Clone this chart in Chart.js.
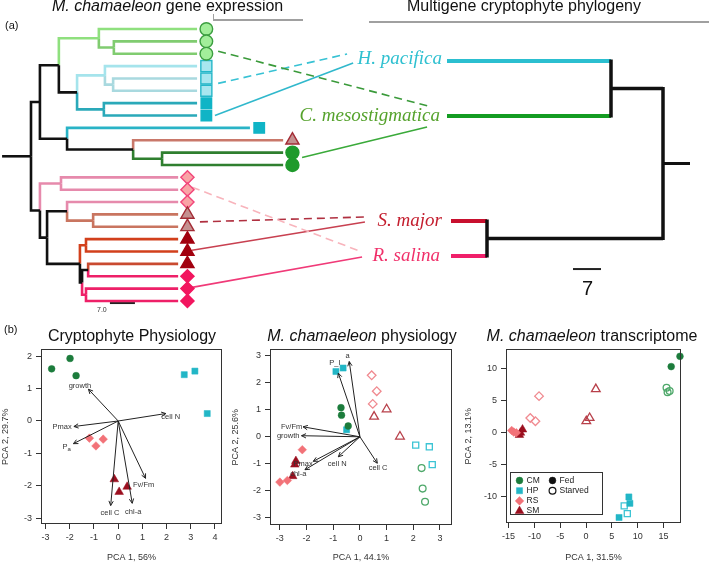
<!DOCTYPE html>
<html>
<head>
<meta charset="utf-8">
<script src="https://cdn.jsdelivr.net/npm/chart.js@4.4.1/dist/chart.umd.min.js"></script>
<style>
  html, body { margin: 0; padding: 0; background: #fff; }
  body { width: 709px; height: 566px; position: relative; overflow: hidden; font-family: "Liberation Sans", Arial, sans-serif; color: #111; }
  .box { position: absolute; }
  .txt { position: absolute; white-space: nowrap; }
  .head { font-size: 16px; line-height: 18px; }
  .taxon { font-family: "Liberation Serif", "DejaVu Serif", serif; font-style: italic; font-size: 19px; line-height: 20px; }
  .ttl { font-size: 16px; line-height: 18px; text-align: center; width: 240px; z-index: 2; }
  .rule { position: absolute; background: #a0a0a0; }
</style>
</head>
<body>

<div class="box" style="left:0;top:0;width:709px;height:318px"><canvas id="tree"></canvas></div>

<div class="txt head" style="left:52px;top:-3px"><i>M. chamaeleon</i> gene expression</div>
<div class="txt head" style="left:407px;top:-3px">Multigene cryptophyte phylogeny</div>
<div class="rule" style="left:213px;top:19px;width:90px;height:2px"></div>
<div class="rule" style="left:213px;top:14px;width:1px;height:6px"></div>
<div class="rule" style="left:369px;top:21px;width:340px;height:2px"></div>
<div class="txt" style="left:5px;top:19px;font-size:11px">(a)</div>

<div class="txt taxon" style="right:267px;top:48px;color:#2ec0d0">H. pacifica</div>
<div class="txt taxon" style="right:269px;top:105px;color:#55a22c">C. mesostigmatica</div>
<div class="txt taxon" style="right:267px;top:210px;color:#c41e2e">S. major</div>
<div class="txt taxon" style="right:269px;top:245px;color:#f0306a">R. salina</div>
<div class="txt" style="left:97px;top:306px;font-size:7px;color:#333">7.0</div>
<div class="txt" style="left:582px;top:277px;font-size:20px;line-height:22px">7</div>

<div class="txt" style="left:4px;top:323px;font-size:11px">(b)</div>
<div class="txt ttl" style="left:12px;top:327px">Cryptophyte Physiology</div>
<div class="txt ttl" style="left:242px;top:327px"><i>M. chamaeleon</i> physiology</div>
<div class="txt ttl" style="left:472px;top:327px"><i>M. chamaeleon</i> transcriptome</div>

<div class="box" style="left:0;top:340px;width:228px;height:226px"><canvas id="pca1"></canvas></div>
<div class="box" style="left:230px;top:340px;width:228px;height:226px"><canvas id="pca2"></canvas></div>
<div class="box" style="left:463px;top:340px;width:246px;height:226px"><canvas id="pca3"></canvas></div>

<script>
const FONT = '"Liberation Sans", Arial, sans-serif';

// ---------- (a) gene expression dendrogram, depths in units of the 7.0 bar ----------
// [node, parent, depth, branch colour]; leaves are t0..t22 top to bottom
const geneTree = [
  ['root', null, 0, '#111'],
  ['c1', 'root', 2.5, '#111'],
  ['c2', 'c1', 7.8, '#111'],
  ['g1', 'c2', 19.0, '#8fe07e'],
  ['t0', 'g1', 46.5, '#8fe07e'],
  ['g2', 'g1', 23.2, '#80cc70'],
  ['t1', 'g2', 46.5, '#80cc70'],
  ['t2', 'g2', 46.5, '#80cc70'],
  ['h1', 'c2', 12.9, '#111'],
  ['h2', 'h1', 20.7, '#a5e4ec'],
  ['t3', 'h2', 46.5, '#a5e4ec'],
  ['h3', 'h2', 23.0, '#a9d9df'],
  ['t4', 'h3', 46.5, '#a9d9df'],
  ['t5', 'h3', 46.5, '#a9d9df'],
  ['h4', 'h1', 20.4, '#2aa9b9'],
  ['t6', 'h4', 46.5, '#2aa9b9'],
  ['t7', 'h4', 46.5, '#2aa9b9'],
  ['d1', 'c1', 10.1, '#111'],
  ['t8', 'd1', 61.3, '#29b3c6'],
  ['d2', 'd1', 28.6, '#111'],
  ['t9', 'd2', 70.6, '#c9786a'],
  ['d3', 'd2', 36.7, '#2f7f2f'],
  ['t10', 'd3', 70.6, '#2f7f2f'],
  ['t11', 'd3', 70.6, '#2f7f2f'],
  ['e1', 'root', 2.5, '#111'],
  ['p1', 'e1', 8.4, '#e68aac'],
  ['t12', 'p1', 41.2, '#e68aac'],
  ['t13', 'p1', 41.2, '#e68aac'],
  ['e2', 'e1', 4.5, '#111'],
  ['e3', 'e2', 10.1, '#111'],
  ['t14', 'e3', 41.2, '#e68aac'],
  ['b1', 'e3', 17.4, '#c97560'],
  ['t15', 'b1', 41.2, '#c97560'],
  ['t16', 'b1', 41.2, '#c97560'],
  ['e4', 'e2', 13.7, '#111'],
  ['r1', 'e4', 15.4, '#d2401c'],
  ['t17', 'r1', 41.2, '#d2401c'],
  ['t18', 'r1', 41.2, '#d2401c'],
  ['e5', 'e4', 14.3, '#111'],
  ['e6', 'e5', 16.0, '#111'],
  ['t19', 'e6', 41.2, '#c94a30'],
  ['t20', 'e6', 41.2, '#ee2068'],
  ['r2', 'e5', 15.4, '#ee2068'],
  ['t21', 'r2', 41.2, '#ee2068'],
  ['t22', 'r2', 41.2, '#ee2068'],
];
const geneRootStub = -8.1;
// sample type of each leaf (CM/HP/RS/SM, s = starved, f = fed)
const leafMarks = ['cmS','cmS','cmS','hpS','hpS','hpS','hpF','hpF','hpF','smS','cmF','cmF',
                   'rsS','rsS','rsS','smS','smS','smF','smF','smF','rsF','rsF','rsF'];

// ---------- (a) species tree, depths from its root (units of the 7 bar) ----------
const speciesTree = [
  ['root', null, 0, '#111'],
  ['hc', 'root', 13, '#111'],
  ['H. pacifica', 'hc', 54, '#2bbfd0'],
  ['C. mesostigmatica', 'hc', 54, '#149c22'],
  ['sr', 'root', 44, '#111'],
  ['S. major', 'sr', 53, '#c8102e'],
  ['R. salina', 'sr', 53, '#f0206a'],
];
const speciesRows = { 'H. pacifica': 2.59, 'C. mesostigmatica': 7.04, 'S. major': 15.53, 'R. salina': 18.37 };
const speciesRootStub = -6.75;

// connectors from expression leaves to species labels: [depth, row]
const linkFrom = [[52.4, 1.8], [52.4, 4.4], [51.5, 7.0], [75.9, 10.4], [45.1, 12.8], [47.3, 15.6], [45.1, 17.9], [45.1, 20.9]];
const linkTo = [[111.2, 6.23], [88.5, 2.02], [90.2, 2.75], [110.9, 7.93], [92.7, 18.04], [93.5, 15.21], [93.5, 15.61], [92.7, 18.45]];
const linkColors = ['#3a9a3a', '#38c2d4', '#30b8cc', '#3aaa3a', '#f8b4bc', '#b03040', '#c84050', '#f03a78'];
const linkDashed = [true, true, false, false, true, true, false, false];

const geneBar = [22.1, 29.1, 22.17];      // 7.0
const speciesBar = [15.5, 22.5, 19.42];   // 7

const markStyle = {
  cmS: { shape: 'circle', r: 6.3, bg: '#a2ee9a', bd: '#3c9e40' },
  hpS: { shape: 'rect', r: 7.8, bg: '#a8e6ef', bd: '#25b7c9' },
  hpF: { shape: 'rect', r: 7.4, bg: '#10b4c6', bd: '#10b4c6' },
  smS: { shape: 'triangle', r: 7.6, bg: '#c59090', bd: '#a32c36' },
  cmF: { shape: 'circle', r: 6.5, bg: '#1f9a2c', bd: '#1f9a2c' },
  rsS: { shape: 'rectRot', r: 6.6, bg: '#f9a3a6', bd: '#f2457a' },
  smF: { shape: 'triangle', r: 7.6, bg: '#a2000f', bd: '#a2000f' },
  rsF: { shape: 'rectRot', r: 6.6, bg: '#f2165f', bd: '#f2165f' },
};

function buildTree(list, leafRow) {
  const nodes = {};
  list.forEach(([id, parent, depth, color]) => { nodes[id] = { id, parent, depth, color, kids: [] }; });
  list.forEach(([id, parent]) => { if (parent) nodes[parent].kids.push(id); });
  const rowOf = n => {
    if (n.row === undefined) {
      n.row = n.kids.length ? n.kids.reduce((s, k) => s + rowOf(nodes[k]), 0) / n.kids.length : leafRow(n.id);
    }
    return n.row;
  };
  Object.values(nodes).forEach(rowOf);
  return nodes;
}

function seg(points, color, width, axis, dash) {
  return {
    type: 'scatter', showLine: true, data: points.map(([x, y]) => ({ x, y })),
    borderColor: color, borderWidth: width, pointRadius: 0, tension: 0, fill: false,
    xAxisID: axis || 'x', borderDash: dash || [], borderCapStyle: 'butt', borderJoinStyle: 'miter', clip: false
  };
}

const gNodes = buildTree(geneTree, id => +id.slice(1));
const sNodes = buildTree(speciesTree, id => speciesRows[id]);
const treeSets = [];

// gene tree: black first, coloured over it
const gList = Object.values(gNodes).filter(n => n.parent);
gList.sort((a, b) => (b.color === '#111') - (a.color === '#111'));
gList.forEach(n => {
  const p = gNodes[n.parent];
  treeSets.push(seg([[p.depth, p.row], [p.depth, n.row], [n.depth, n.row]], n.color, 2.6));
});
treeSets.push(seg([[geneRootStub, gNodes.root.row], [0, gNodes.root.row]], '#111', 2.6));

// leaf markers
const markGap = 2.6;
Object.keys(markStyle).forEach(k => {
  const pts = [];
  leafMarks.forEach((m, i) => { if (m === k) { const n = gNodes['t' + i]; pts.push({ x: n.depth + markGap, y: n.row }); } });
  const s = markStyle[k];
  treeSets.push({ type: 'scatter', data: pts, pointStyle: s.shape, pointRadius: s.r, backgroundColor: s.bg,
    borderColor: s.bd, borderWidth: 1.4, showLine: false, clip: false });
});

// species tree: coloured horizontals, black verticals
Object.values(sNodes).forEach(n => {
  if (n.parent) {
    const p = sNodes[n.parent];
    treeSets.push(seg([[p.depth, n.row], [n.depth, n.row]], n.color, n.kids.length ? 3.5 : 4, 'xr'));
  }
  if (n.kids.length) {
    const rows = n.kids.map(k => sNodes[k].row);
    treeSets.push(seg([[n.depth, Math.min(...rows) - 0.12], [n.depth, Math.max(...rows) + 0.12]], '#111', 3.5, 'xr'));
  }
});
treeSets.push(seg([[speciesRootStub, sNodes.root.row], [0, sNodes.root.row]], '#111', 3, 'xr'));

// connectors
linkFrom.forEach((f, i) => {
  treeSets.push(seg([f, linkTo[i]], linkColors[i], 1.6, 'x', linkDashed[i] ? [8, 5] : []));
});

// scale bars
treeSets.push(seg([[geneBar[0], geneBar[2]], [geneBar[1], geneBar[2]]], '#222', 2));
treeSets.push(seg([[speciesBar[0], speciesBar[2]], [speciesBar[1], speciesBar[2]]], '#222', 2, 'xr'));

new Chart(document.getElementById('tree'), {
  type: 'scatter',
  data: { datasets: treeSets },
  options: {
    responsive: true, maintainAspectRatio: false, animation: false, events: [],
    layout: { padding: 0, autoPadding: false },
    plugins: { legend: { display: false }, tooltip: { enabled: false } },
    scales: {
      x: { type: 'linear', display: false, min: -8.68, max: 189.84 },
      xr: { type: 'linear', display: false, min: -11.5, max: 165.75, reverse: true },
      y: { type: 'linear', display: false, min: -2.346, max: 23.38, reverse: true }
    }
  }
});

// ---------- (b) PCA panels ----------
// Cryptophyte physiology (all fed cultures)
const p1CM = [[-2.75, 1.61], [-1.99, 1.93], [-1.74, 1.40]];
const p1HP = [[2.73, 1.43], [3.17, 1.54], [3.68, 0.23]];
const p1RS = [[-1.19, -0.53], [-0.92, -0.77], [-0.62, -0.56]];
const p1SM = [[-0.16, -1.80], [0.04, -2.19], [0.37, -2.03]];
const p1Loadings = ['growth', 'cell N', 'Pmax', 'P[a]', 'cell C', 'chl-a', 'Fv/Fm'];
const p1Tips = [[-1.23, 0.98], [1.97, 0.23], [-1.83, -0.17], [-1.85, -0.70], [-0.31, -2.61], [0.58, -2.54], [1.13, -1.77]];
const p1LabelAt = [[-1.58, 1.08], [2.17, 0.12], [-2.32, -0.19], [-2.13, -0.81], [-0.34, -2.83], [0.62, -2.80], [1.05, -1.97]];
const p1XTicks = [-3, -2, -1, 0, 1, 2, 3, 4];
const p1YTicks = [-3, -2, -1, 0, 1, 2];

// M. chamaeleon physiology (fed / starved)
const p2CMfed = [[-0.71, 1.08], [-0.69, 0.80], [-0.44, 0.40]];
const p2CMstarved = [[2.31, -1.16], [2.35, -1.92], [2.44, -2.41]];
const p2HPfed = [[-0.90, 2.42], [-0.63, 2.55], [-0.50, 0.26]];
const p2HPstarved = [[2.09, -0.31], [2.60, -0.37], [2.71, -1.03]];
const p2RSfed = [[-2.16, -0.48], [-3.00, -1.68], [-2.72, -1.62]];
const p2RSstarved = [[0.44, 2.28], [0.63, 1.69], [0.48, 1.22]];
const p2SMfed = [[-2.40, -0.90], [-2.44, -1.03], [-2.52, -1.46]];
const p2SMstarved = [[1.00, 1.02], [0.53, 0.75], [1.50, 0.01]];
const p2Loadings = ['P_I', 'a', 'Fv/Fm', 'growth', 'Pmax', 'chl-a', 'cell N', 'cell C'];
const p2Tips = [[-0.81, 2.36], [-0.40, 2.79], [-2.13, 0.37], [-2.19, 0.04], [-1.75, -0.91], [-2.06, -1.22], [-0.81, -0.74], [0.65, -0.98]];
const p2LabelAt = [[-0.94, 2.73], [-0.46, 2.98], [-2.56, 0.38], [-2.69, 0.04], [-2.13, -1.00], [-2.31, -1.37], [-0.85, -1.00], [0.68, -1.17]];
const p2XTicks = [-3, -2, -1, 0, 1, 2, 3];
const p2YTicks = [-3, -2, -1, 0, 1, 2, 3];

// M. chamaeleon transcriptome (fed / starved)
const p3CMfed = [[18.2, 11.9], [16.5, 10.3]];
const p3CMstarved = [[15.6, 7.0], [16.2, 6.5], [15.8, 6.3]];
const p3HPfed = [[6.4, -13.2], [8.3, -10.0], [8.5, -11.0]];
const p3HPstarved = [[7.4, -11.4], [8.0, -12.6]];
const p3RSfed = [[-14.4, 0.35], [-14.0, 0.1], [-13.5, 0.0]];
const p3RSstarved = [[-9.1, 5.7], [-10.8, 2.3], [-9.8, 1.8]];
const p3SMfed = [[-12.3, 0.5], [-12.7, 0.0], [-12.9, -0.35]];
const p3SMstarved = [[1.9, 6.8], [0.7, 2.3], [0.05, 1.8]];
const p3XTicks = [-15, -10, -5, 0, 5, 10, 15];
const p3YTicks = [-10, -5, 0, 5, 10];
const legendGroups = ['CM', 'HP', 'RS', 'SM'];
const legendStates = ['Fed', 'Starved'];

const grp = {
  CM: { shape: 'circle', r: 3.4, fed: '#1c7c3c', starved: '#4ea86a' },
  HP: { shape: 'rect', r: 4.3, fed: '#22b6c6', starved: '#3cc4d4' },
  RS: { shape: 'rectRot', r: 4.3, fed: '#f27278', starved: '#f08a90' },
  SM: { shape: 'triangle', r: 5.0, fed: '#9b0f1f', starved: '#b8404a' },
};

function marks(data, g, open) {
  const s = grp[g], c = open ? s.starved : s.fed;
  return { data: data.map(([x, y]) => ({ x, y })), pointStyle: s.shape, pointRadius: s.r,
    backgroundColor: open ? 'rgba(0,0,0,0)' : c, borderColor: c, borderWidth: open ? 1.3 : 0.5,
    showLine: false, clip: false };
}

function drawShape(ctx, shape, r, x, y, fill, stroke, lw) {
  ctx.fillStyle = fill; ctx.strokeStyle = stroke; ctx.lineWidth = lw;
  if (Chart.helpers && Chart.helpers.drawPoint) {
    Chart.helpers.drawPoint(ctx, { pointStyle: shape, radius: r, rotation: 0, borderWidth: lw }, x, y);
  } else {
    ctx.beginPath(); ctx.arc(x, y, r, 0, Math.PI * 2); ctx.fill(); if (lw) ctx.stroke();
  }
}

const pcaDecor = {
  id: 'pcaDecor',
  afterDatasetsDraw(chart, args, o) {
    const { ctx, chartArea: a } = chart;
    const sx = chart.scales.x, sy = chart.scales.y;
    ctx.save();
    const x0 = sx.getPixelForValue(0), y0 = sy.getPixelForValue(0);
    (o.names || []).forEach((name, i) => {
      const x1 = sx.getPixelForValue(o.tips[i][0]), y1 = sy.getPixelForValue(o.tips[i][1]);
      const ang = Math.atan2(y1 - y0, x1 - x0), h = 5;
      ctx.strokeStyle = '#222'; ctx.lineWidth = 1;
      ctx.beginPath();
      ctx.moveTo(x0, y0); ctx.lineTo(x1, y1);
      ctx.moveTo(x1 - h * Math.cos(ang - 0.45), y1 - h * Math.sin(ang - 0.45));
      ctx.lineTo(x1, y1);
      ctx.lineTo(x1 - h * Math.cos(ang + 0.45), y1 - h * Math.sin(ang + 0.45));
      ctx.stroke();
      const lx = sx.getPixelForValue(o.at[i][0]), ly = sy.getPixelForValue(o.at[i][1]);
      ctx.fillStyle = '#333'; ctx.textBaseline = 'middle';
      const m = /^(.*)\[(.*)\]$/.exec(name);
      if (m) {
        ctx.font = '7.5px ' + FONT; const w1 = ctx.measureText(m[1]).width;
        ctx.font = '6px ' + FONT; const w2 = ctx.measureText(m[2]).width;
        ctx.textAlign = 'left';
        ctx.font = '7.5px ' + FONT; ctx.fillText(m[1], lx - (w1 + w2) / 2, ly);
        ctx.font = '6px ' + FONT; ctx.fillText(m[2], lx - (w1 + w2) / 2 + w1, ly + 2.5);
      } else {
        ctx.font = '7.5px ' + FONT; ctx.textAlign = 'center';
        ctx.fillText(name, lx, ly);
      }
    });
    ctx.strokeStyle = '#333'; ctx.lineWidth = 1;
    ctx.strokeRect(Math.round(a.left) + 0.5, Math.round(a.top) + 0.5, Math.round(a.right - a.left) - 1, Math.round(a.bottom - a.top) - 1);
    if (o.legend) {
      const L = Math.round(a.left) + 4.5, T = Math.round(a.bottom) - 50.5;
      ctx.fillStyle = '#fff'; ctx.fillRect(L, T, 92, 42);
      ctx.strokeStyle = '#333'; ctx.strokeRect(L, T, 92, 42);
      ctx.font = '8.5px ' + FONT; ctx.textAlign = 'left'; ctx.textBaseline = 'middle';
      legendGroups.forEach((g, i) => {
        const yy = T + 8 + i * 10.2, s = grp[g];
        drawShape(ctx, s.shape, s.r, L + 9, yy, s.fed, s.fed, 0.5);
        ctx.fillStyle = '#222'; ctx.fillText(g, L + 16, yy);
      });
      legendStates.forEach((st, i) => {
        const yy = T + 8 + i * 10.2;
        drawShape(ctx, 'circle', 3.4, L + 42, yy, i ? 'rgba(0,0,0,0)' : '#111', '#111', i ? 1.2 : 0.5);
        ctx.fillStyle = '#222'; ctx.fillText(st, L + 49, yy);
      });
    }
    ctx.restore();
  }
};

function pcaChart(id, datasets, c) {
  const tickFont = { size: 9, family: FONT };
  return new Chart(document.getElementById(id), {
    type: 'scatter',
    data: { datasets },
    plugins: [pcaDecor],
    options: {
      responsive: true, maintainAspectRatio: false, animation: false, events: [],
      layout: { padding: { top: 8, right: c.padRight, left: 0, bottom: 0 }, autoPadding: false },
      plugins: { legend: { display: false }, tooltip: { enabled: false },
        pcaDecor: { names: c.names, tips: c.tips, at: c.at, legend: c.legend } },
      scales: {
        x: {
          type: 'linear', min: c.x[0], max: c.x[1],
          afterBuildTicks: s => { s.ticks = c.xTicks.map(v => ({ value: v })); },
          afterFit: s => { s.height = c.xH; },
          grid: { drawOnChartArea: false, drawTicks: true, tickLength: 5, color: '#333' },
          border: { display: false },
          ticks: { font: tickFont, color: '#333', padding: 3, maxRotation: 0, autoSkip: false },
          title: { display: true, text: c.xTitle, font: tickFont, color: '#333', padding: { top: 0, bottom: 3 } }
        },
        y: {
          type: 'linear', min: c.y[0], max: c.y[1],
          afterBuildTicks: s => { s.ticks = c.yTicks.map(v => ({ value: v })); },
          afterFit: s => { s.width = c.yW; },
          grid: { drawOnChartArea: false, drawTicks: true, tickLength: 5, color: '#333' },
          border: { display: false },
          ticks: { font: tickFont, color: '#333', padding: 4, autoSkip: false },
          title: { display: true, text: c.yTitle, font: tickFont, color: '#333', padding: { top: 0, bottom: 0 } }
        }
      }
    }
  });
}

pcaChart('pca1', [marks(p1CM, 'CM'), marks(p1HP, 'HP'), marks(p1RS, 'RS'), marks(p1SM, 'SM')], {
  x: [-3.19, 4.29], y: [-3.18, 2.21], xTicks: p1XTicks, yTicks: p1YTicks, yW: 41, xH: 42, padRight: 6,
  xTitle: 'PCA 1, 56%', yTitle: 'PCA 2, 29.7%', names: p1Loadings, tips: p1Tips, at: p1LabelAt
});

pcaChart('pca2', [
  marks(p2CMfed, 'CM'), marks(p2CMstarved, 'CM', true), marks(p2HPfed, 'HP'), marks(p2HPstarved, 'HP', true),
  marks(p2RSfed, 'RS'), marks(p2RSstarved, 'RS', true), marks(p2SMfed, 'SM'), marks(p2SMstarved, 'SM', true)
], {
  x: [-3.37, 3.45], y: [-3.27, 3.24], xTicks: p2XTicks, yTicks: p2YTicks, yW: 40, xH: 41, padRight: 6,
  xTitle: 'PCA 1, 44.1%', yTitle: 'PCA 2, 25.6%', names: p2Loadings, tips: p2Tips, at: p2LabelAt
});

pcaChart('pca3', [
  marks(p3CMfed, 'CM'), marks(p3CMstarved, 'CM', true), marks(p3HPfed, 'HP'), marks(p3HPstarved, 'HP', true),
  marks(p3RSfed, 'RS'), marks(p3RSstarved, 'RS', true), marks(p3SMfed, 'SM'), marks(p3SMstarved, 'SM', true)
], {
  x: [-15.5, 18.4], y: [-14.06, 12.98], xTicks: p3XTicks, yTicks: p3YTicks, yW: 43, xH: 43, padRight: 28,
  xTitle: 'PCA 1, 31.5%', yTitle: 'PCA 2, 13.1%', legend: true
});
</script>
</body>
</html>
